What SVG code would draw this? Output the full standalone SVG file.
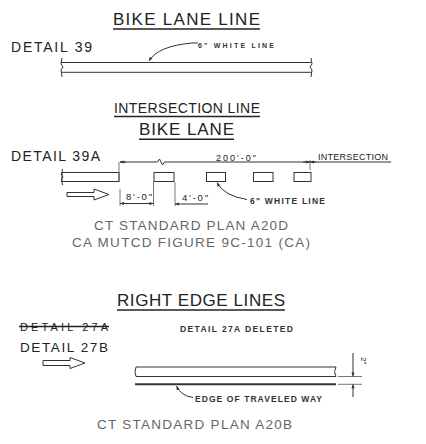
<svg xmlns="http://www.w3.org/2000/svg" width="426" height="444" viewBox="0 0 426 444">
<defs>
<style>
.t{font-family:"Liberation Sans",Arial,sans-serif;fill:#222}
.s{font-family:"Liberation Sans",Arial,sans-serif;fill:#333;font-weight:bold}
.g{font-family:"Liberation Sans",Arial,sans-serif;fill:#666}
.ln{stroke:#333;stroke-width:1;fill:none}
.thin{stroke:#555;stroke-width:0.8;fill:none}
.ul{stroke:#222;stroke-width:1.6}
.bar{stroke:#333;stroke-width:1;fill:#fff}
</style>
<marker id="ah" viewBox="0 0 10 10" refX="10" refY="5" markerWidth="6" markerHeight="4" orient="auto-start-reverse" markerUnits="userSpaceOnUse"><path d="M0,1 L10,5 L0,9 z" fill="#333"/></marker>
</defs>
<rect width="426" height="444" fill="#fff"/>

<g id="bike-lane-line">
<text class="t" x="113" y="25" font-size="17" textLength="147" lengthAdjust="spacing">BIKE LANE LINE</text>
<line class="ul" x1="113" y1="29" x2="260" y2="29"/>
<text class="t" x="11" y="52" font-size="14" textLength="81" lengthAdjust="spacing">DETAIL 39</text>
<text class="s" x="198" y="47.5" font-size="7" textLength="76" lengthAdjust="spacing">6" WHITE LINE</text>
<line class="ln" x1="61" y1="62.5" x2="311" y2="62.5"/>
<line class="ln" x1="61" y1="72.3" x2="311" y2="72.3"/>
<path class="ln" d="M62,58 L61,64 L63,67 L61,70 L62,77"/>
<path class="ln" d="M311,58 L312,64 L310,67 L312,70 L311,77"/>
</g>

<g id="intersection-line">
<text class="t" x="114" y="113" font-size="14" textLength="146" lengthAdjust="spacing">INTERSECTION LINE</text>
<line class="ul" x1="114" y1="116.5" x2="260" y2="116.5"/>
<text class="t" x="139" y="135" font-size="17" textLength="95" lengthAdjust="spacing">BIKE LANE</text>
<line class="ul" x1="139" y1="139.3" x2="234" y2="139.3"/>
<text class="t" x="11" y="160.5" font-size="14" textLength="89" lengthAdjust="spacing">DETAIL 39A</text>
<text class="t" x="216" y="160.5" font-size="9" textLength="40" lengthAdjust="spacing">200'-0"</text>
<text class="t" x="318" y="160" font-size="9" textLength="70" lengthAdjust="spacing">INTERSECTION</text>
<rect class="bar" x="62" y="172.5" width="57" height="9"/>
<path class="ln" d="M62.5,169 L61.5,175 L63,177 L61.5,179.5 L62.5,185"/>
<rect class="bar" x="154" y="172.5" width="20" height="9"/>
<rect class="bar" x="206.5" y="172.5" width="19" height="9"/>
<rect class="bar" x="253.5" y="172.5" width="19.5" height="9"/>
<rect class="bar" x="294" y="172.5" width="17" height="9"/>
<path class="bar" d="M67,192.5 H94 V189 L109,194.5 L94,200 V196.5 H67 Z"/>
<text class="t" x="126" y="200" font-size="9.5" textLength="26" lengthAdjust="spacing">8'-0"</text>
<text class="t" x="182" y="201" font-size="9.5" textLength="26" lengthAdjust="spacing">4'-0"</text>
<text class="s" x="250" y="203.5" font-size="8.5" textLength="75" lengthAdjust="spacing">6" WHITE LINE</text>
<text class="g" x="94" y="230" font-size="13.5" textLength="194" lengthAdjust="spacing">CT STANDARD PLAN A20D</text>
<text class="g" x="72" y="246.5" font-size="13.5" textLength="238" lengthAdjust="spacing">CA MUTCD FIGURE 9C-101 (CA)</text>
</g>

<g id="right-edge-lines">
<text class="t" x="117" y="305.5" font-size="17" textLength="168" lengthAdjust="spacing">RIGHT EDGE LINES</text>
<line class="ul" x1="117" y1="310" x2="285" y2="310"/>
<text class="t" x="20" y="331" font-size="11" textLength="88" lengthAdjust="spacing">DETAIL 27A</text>
<line class="ul" x1="19" y1="326.5" x2="109" y2="326.5"/>
<text class="t" x="20" y="352" font-size="13.5" textLength="88" lengthAdjust="spacing">DETAIL 27B</text>
<text class="s" x="180" y="332" font-size="8.5" textLength="113" lengthAdjust="spacing">DETAIL 27A DELETED</text>
<path class="bar" d="M43,360.5 H70 V357.5 L85,363 L70,368.5 V365.5 H43 Z"/>
<path class="bar" d="M136,367 H336 Q333,371.5 336,376.5 H136 Q134,371.5 136,367 Z"/>
<line x1="135" y1="384.3" x2="336" y2="384.3" stroke="#333" stroke-width="2"/>
<line class="thin" x1="338" y1="376.5" x2="362" y2="376.5"/>
<line class="thin" x1="338" y1="384.3" x2="362" y2="384.3"/>
<text class="t" font-size="8" transform="translate(360.5,357) rotate(90)">2"</text>
<text class="s" x="195" y="401.5" font-size="8.5" textLength="127" lengthAdjust="spacing">EDGE OF TRAVELED WAY</text>
<text class="g" x="97" y="429" font-size="13.5" textLength="195" lengthAdjust="spacing">CT STANDARD PLAN A20B</text>
</g>

<g id="connectors">
<path class="ln" d="M198,43 H192 Q158,46 149,61" marker-end="url(#ah)"/>
<path class="ln" d="M120,162 H157.5 L159.5,159 L162.5,165 L164.5,162 H391" />
<line class="ln" x1="126" y1="162" x2="120" y2="162" marker-end="url(#ah)"/>
<line class="ln" x1="303" y1="162" x2="310" y2="162" marker-end="url(#ah)"/>
<line class="ln" x1="316" y1="162" x2="310" y2="162" marker-end="url(#ah)"/>
<line class="thin" x1="119" y1="162" x2="119" y2="181.5"/>
<line class="thin" x1="310" y1="160" x2="310" y2="170"/>
<line class="thin" x1="120" y1="189" x2="120" y2="206"/>
<line class="thin" x1="153.5" y1="182" x2="153.5" y2="206"/>
<line class="ln" x1="120" y1="203.5" x2="153.5" y2="203.5" marker-start="url(#ah)" marker-end="url(#ah)"/>
<line class="thin" x1="175" y1="182" x2="175" y2="206"/>
<line class="ln" x1="208" y1="204" x2="175" y2="204" marker-end="url(#ah)"/>
<path class="ln" d="M247,199.5 Q224,196 217,182.5" marker-end="url(#ah)"/>
<line class="ln" x1="353" y1="353" x2="353" y2="376.5" marker-end="url(#ah)"/>
<line class="ln" x1="353" y1="397" x2="353" y2="384.3" marker-end="url(#ah)"/>
<path class="ln" d="M193,397.5 Q181,396 176.5,386" marker-end="url(#ah)"/>
</g>
</svg>
